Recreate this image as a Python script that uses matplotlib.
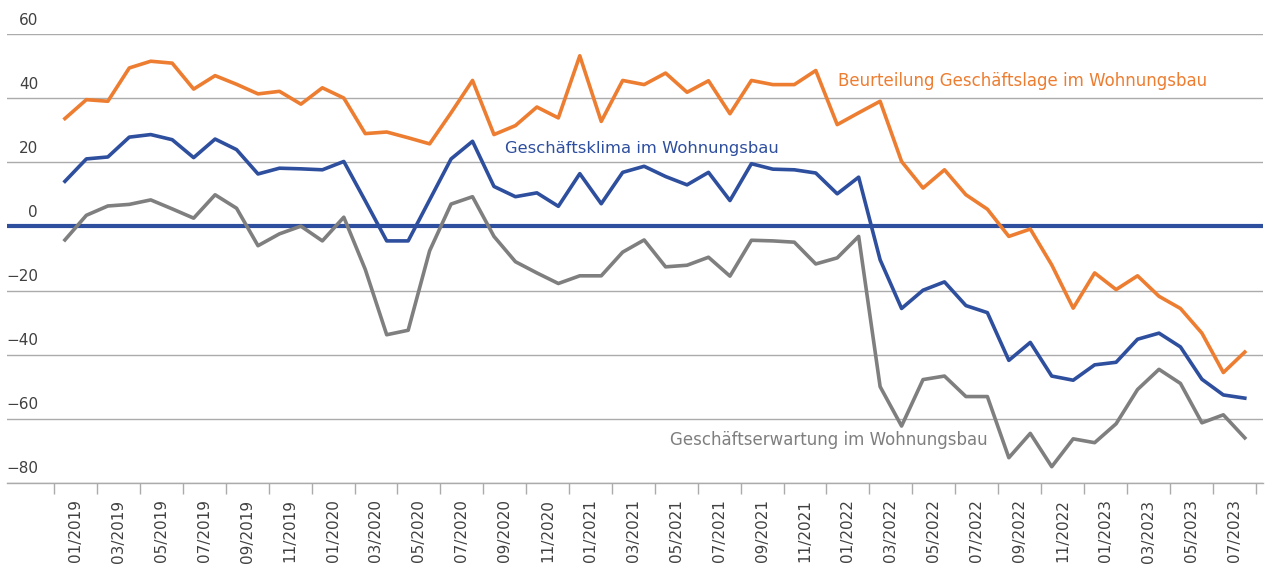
import numpy as np
import matplotlib
matplotlib.use("Agg")
import matplotlib.pyplot as plt
import matplotlib.transforms as mtransforms

# monthly values 01/2019 .. 08/2023
months = [f"{m:02d}/{y}" for y in range(2019, 2024) for m in range(1, 13)][:56]

lage = [33.7, 39.6, 39.1, 49.5, 51.6, 51.0, 42.9, 47.1, 44.4, 41.4, 42.2, 38.2,
        43.3, 40.1, 29.0, 29.5, 27.7, 25.8, 35.5, 45.6, 28.7, 31.5, 37.3, 33.9,
        53.3, 32.8, 45.6, 44.3, 47.9, 41.9, 45.5, 35.2, 45.6, 44.3, 44.3, 48.7,
        31.8, 35.5, 39.1, 20.3, 12.0, 17.7, 9.9, 5.4, -3.1, -0.8, -12.0, -25.5,
        -14.5, -19.7, -15.4, -21.8, -25.6, -33.3, -45.6, -39.2]

klima = [14.1, 21.1, 21.7, 27.9, 28.7, 27.1, 21.5, 27.3, 24.0, 16.4, 18.2, 18.0,
         17.7, 20.3, 8.0, -4.5, -4.5, 8.3, 21.1, 26.6, 12.5, 9.3, 10.5, 6.3,
         16.5, 7.1, 16.9, 18.8, 15.6, 13.0, 16.9, 8.1, 19.6, 17.9, 17.7, 16.7,
         10.2, 15.4, -10.4, -25.6, -19.9, -17.3, -24.7, -26.9, -41.8, -36.2, -46.7, -48.0,
         -43.2, -42.4, -35.2, -33.3, -37.6, -47.7, -52.6, -53.6]

erwartung = [-4.2, 3.5, 6.4, 6.9, 8.3, 5.5, 2.6, 9.9, 5.7, -6.0, -2.3, 0.1,
             -4.5, 2.9, -13.4, -33.8, -32.4, -7.6, 7.0, 9.3, -3.1, -11.0, -14.5, -17.8,
             -15.4, -15.4, -8.0, -4.2, -12.6, -12.1, -9.6, -15.5, -4.3, -4.5, -4.9, -11.7,
             -9.8, -3.1, -50.0, -62.3, -47.8, -46.7, -53.1, -53.1, -72.2, -64.6, -75.0, -66.3,
             -67.5, -61.6, -50.9, -44.6, -49.0, -61.3, -58.8, -66.0]

yticks = [60, 40, 20, 0, -20, -40, -60, -80]

ORANGE = "#ED7D31"
BLUE = "#2E4E9E"
GRAY = "#7F7F7F"
GRID = "#ABABAB"
TXT = "#404040"

fig = plt.figure(figsize=(12.74, 5.72), dpi=100)
ax = fig.add_axes([0.0055, 0.1561, 0.9859, 0.7839])

x = np.arange(len(months))
ax.set_xlim(-2.70, 55.85)
ax.set_ylim(-80, 60)

# grid lines
for v in yticks:
    if v == 0:
        continue
    ax.axhline(v, color=GRID, lw=1.0, zorder=1)
ax.axhline(0, color=BLUE, lw=3.0, zorder=2)

ax.plot(x, erwartung, color=GRAY, lw=2.6, zorder=3)
ax.plot(x, lage, color=ORANGE, lw=2.6, zorder=4)
ax.plot(x, klima, color=BLUE, lw=2.6, zorder=5)

# y labels above their grid lines
trans = mtransforms.blended_transform_factory(ax.transAxes, ax.transData)
for v in yticks:
    lab = str(v).replace("-", "\u2212")
    ax.text(0.0247, v + 4.3, lab, transform=trans, ha="right", va="center",
            fontsize=11, color=TXT)
ax.set_yticks([])

# x axis: tick marks between every second category, labels centered in span
ax.set_xticks(np.arange(-0.5, 56, 2))
ax.set_xticklabels([])
ax.tick_params(axis="x", which="major", length=8, width=1.0, color=GRID, direction="out")
ax.set_xticks(x[::2] + 0.5, minor=True)
ax.set_xticklabels(months[::2], minor=True, rotation=90, fontsize=11, color=TXT)
ax.tick_params(axis="x", which="minor", length=0, pad=12)

for s in ["top", "right", "left"]:
    ax.spines[s].set_visible(False)
ax.spines["bottom"].set_color(GRID)
ax.spines["bottom"].set_linewidth(1.0)

ax.text(36.04, 45.5, "Beurteilung Geschäftslage im Wohnungsbau", color=ORANGE,
        fontsize=12, ha="left", va="center")
ax.text(20.5, 24.3, "Geschäftsklima im Wohnungsbau", color=BLUE,
        fontsize=11.8, ha="left", va="center")
ax.text(28.2, -66.7, "Geschäftserwartung im Wohnungsbau", color=GRAY,
        fontsize=12, ha="left", va="center")

fig.savefig("out.png", dpi=100)
